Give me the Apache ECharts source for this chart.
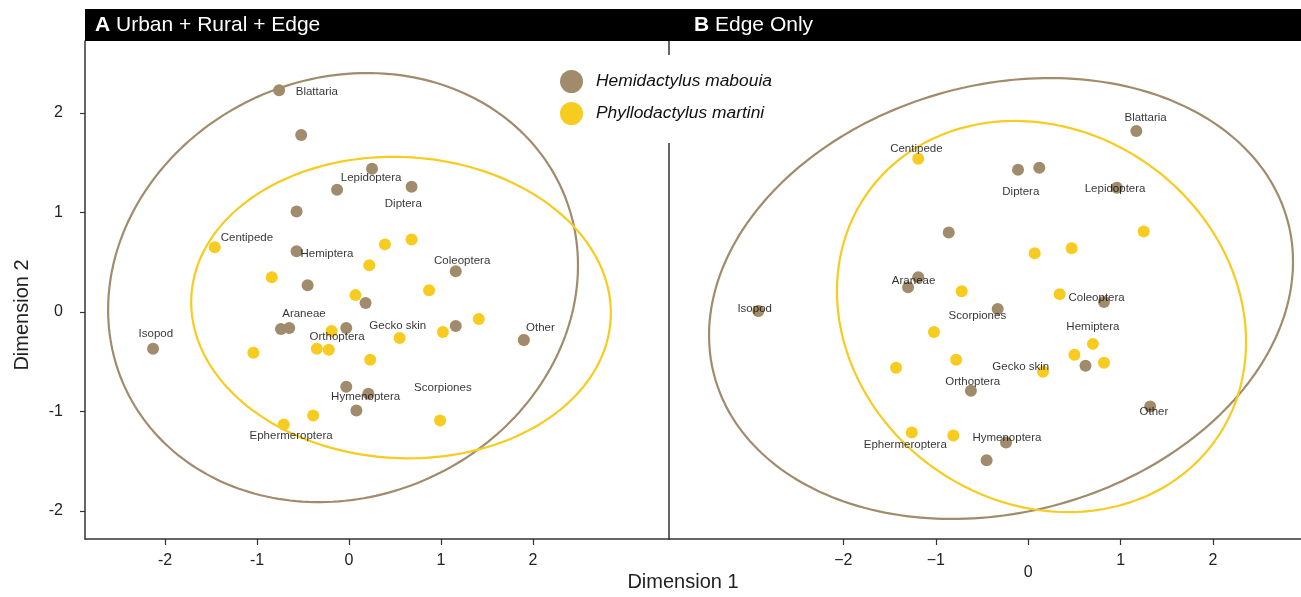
<!DOCTYPE html>
<html>
<head>
<meta charset="utf-8">
<script src="https://cdn.jsdelivr.net/npm/echarts@6/dist/echarts.min.js"></script>
<style>
html,body{margin:0;padding:0;background:#fff;}
#chart{width:1301px;height:597px;}
</style>
</head>
<body>
<div id="chart"></div>
<script>
// ---------- data ----------
const speciesNames = ['Hemidactylus mabouia', 'Phyllodactylus martini'];
const tickValues = [-2, -1, 0, 1, 2];

// Panel A: Urban + Rural + Edge
const hemA_x = [-0.76, -0.52, 0.25, -0.13, 0.68, -0.57, -0.57, -0.45, 1.16, 0.18, -0.74, -0.65, -0.03, 1.16, 1.90, -2.13, -0.03, 0.21, 0.08];
const hemA_y = [2.23, 1.78, 1.44, 1.23, 1.26, 1.01, 0.61, 0.27, 0.41, 0.09, -0.17, -0.16, -0.16, -0.14, -0.28, -0.37, -0.75, -0.82, -0.99];
const phyA_x = [-1.46, 0.68, 0.39, 0.22, -0.84, 0.87, 0.07, 1.41, 1.02, 0.55, -0.19, -0.35, -0.22, -1.04, 0.23, -0.39, -0.71, 0.99, 1.90];
const phyA_y = [0.65, 0.73, 0.68, 0.47, 0.35, 0.22, 0.17, -0.07, -0.20, -0.26, -0.19, -0.37, -0.38, -0.41, -0.48, -1.04, -1.13, -1.09, -0.28];
const labA_names = ['Blattaria', 'Lepidoptera', 'Diptera', 'Centipede', 'Hemiptera', 'Coleoptera', 'Araneae', 'Gecko skin', 'Orthoptera', 'Other', 'Isopod', 'Scorpiones', 'Hymenoptera', 'Ephermeroptera'];
const labA_x = [-0.35, 0.24, 0.59, -1.11, -0.24, 1.23, -0.49, 0.53, -0.13, 2.08, -2.10, 1.02, 0.18, -0.63];
const labA_y = [2.21, 1.35, 1.09, 0.75, 0.59, 0.51, -0.02, -0.14, -0.25, -0.16, -0.22, -0.76, -0.85, -1.24];
// ellipses: [centerX, centerY, u_x, u_y, v_x, v_y]  (point = C + U cos t + V sin t)
const ellA_hem = [-0.065, 0.246, 2.376, 0.993, 0.936, -1.914];
const ellA_phy = [0.565, 0.045, 2.279, -0.111, -0.086, -1.511];

// Panel B: Edge only
const hemB_x = [1.17, -0.11, 0.12, 0.96, -0.86, -1.19, -1.30, -0.33, 0.82, -2.92, 0.62, -0.62, 1.32, -0.24, -0.45];
const hemB_y = [1.82, 1.43, 1.45, 1.25, 0.80, 0.35, 0.25, 0.03, 0.10, 0.01, -0.54, -0.79, -0.95, -1.31, -1.49];
const phyB_x = [-1.19, 1.25, 0.47, 0.07, -0.72, 0.34, -1.02, 0.70, 0.50, 0.82, -0.78, -1.43, 0.16, -1.26, -0.81, -2.92];
const phyB_y = [1.54, 0.81, 0.64, 0.59, 0.21, 0.18, -0.20, -0.32, -0.43, -0.51, -0.48, -0.56, -0.60, -1.21, -1.24, 0.01];
const labB_names = ['Centipede', 'Blattaria', 'Diptera', 'Lepidoptera', 'Araneae', 'Isopod', 'Scorpiones', 'Coleoptera', 'Hemiptera', 'Gecko skin', 'Orthoptera', 'Other', 'Hymenoptera', 'Ephermeroptera'];
const labB_x = [-1.21, 1.27, -0.08, 0.94, -1.24, -2.96, -0.55, 0.74, 0.70, -0.08, -0.60, 1.36, -0.23, -1.33];
const labB_y = [1.64, 1.95, 1.21, 1.24, 0.31, 0.03, -0.04, 0.14, -0.15, -0.55, -0.70, -1.00, -1.26, -1.33];
const ellB_hem = [-0.294, 0.136, 3.101, 0.782, 0.606, -2.073];
const ellB_phy = [0.144, -0.045, 1.880, -1.246, -1.168, -1.520];

// ---------- styling ----------
const FONT = "'Liberation Sans', Arial, Helvetica, sans-serif";
const BROWN = '#a08c6c';
const YELLOW = '#f7cb1f';
const AXIS = '#333';

function zip(xs, ys) { return xs.map((x, i) => [x, ys[i]]); }
function zipLab(xs, ys, names) { return xs.map((x, i) => [x, ys[i], names[i]]); }

function ellipseSeries(p, color, gi) {
  return {
    type: 'custom', name: 'ellipse', xAxisIndex: gi, yAxisIndex: gi, z: 1, silent: true,
    data: [[p[0], p[1]]],
    renderItem: function (params, api) {
      const pts = [];
      const N = 240;
      for (let i = 0; i <= N; i++) {
        const t = i / N * 2 * Math.PI;
        pts.push(api.coord([p[0] + p[2] * Math.cos(t) + p[4] * Math.sin(t),
                            p[1] + p[3] * Math.cos(t) + p[5] * Math.sin(t)]));
      }
      return { type: 'polyline', shape: { points: pts }, style: { stroke: color, lineWidth: 2.2, fill: null } };
    }
  };
}
function pointSeries(name, data, color, gi, z) {
  return {
    type: 'scatter', name: name, xAxisIndex: gi, yAxisIndex: gi, z: z,
    symbol: 'circle', symbolSize: 12, data: data,
    itemStyle: { color: color, opacity: 1 }, emphasis: { disabled: true }
  };
}
function labelSeries(data, gi) {
  return {
    type: 'scatter', name: 'labels', xAxisIndex: gi, yAxisIndex: gi, z: 5, silent: true,
    symbol: 'circle', symbolSize: 1, data: data,
    itemStyle: { color: 'rgba(0,0,0,0)' },
    label: { show: true, position: 'inside', formatter: p => p.data[2], color: '#000', fontSize: 11.5, fontFamily: FONT },
    emphasis: { disabled: true }
  };
}

const yMin = -2.281, yMax = 2.724;

const option = {
  animation: false,
  backgroundColor: '#fff',
  textStyle: { fontFamily: FONT },
  grid: [
    { left: 85, top: 41, width: 584, height: 498, containLabel: false, outerBoundsMode: 'none' },
    { left: 669, top: 41, width: 632, height: 498, containLabel: false, outerBoundsMode: 'none' }
  ],
  xAxis: [
    {
      gridIndex: 0, type: 'value', min: -2.870, max: 3.478,
      axisLine: { show: true, onZero: false, lineStyle: { color: AXIS, width: 1.5 } },
      axisTick: { show: true, length: 6, customValues: tickValues, lineStyle: { color: AXIS, width: 1.2 } },
      axisLabel: { show: true, customValues: tickValues, margin: 14, fontSize: 16, color: '#222', fontFamily: FONT },
      splitLine: { show: false }
    },
    {
      gridIndex: 1, type: 'value', min: -3.887, max: 2.952,
      axisLine: { show: true, onZero: false, lineStyle: { color: AXIS, width: 1.5 } },
      axisTick: { show: true, length: 6, customValues: tickValues, lineStyle: { color: AXIS, width: 1.2 } },
      axisLabel: {
        show: true, customValues: tickValues, margin: 14, fontSize: 16, color: '#222', fontFamily: FONT,
        formatter: v => (v === 0 ? '{z|0}' : String(v).replace('-', '\u2212')),
        rich: { z: { fontSize: 16, color: '#222', fontFamily: FONT, padding: [12, 0, 0, 0] } }
      },
      splitLine: { show: false }
    }
  ],
  yAxis: [
    {
      gridIndex: 0, type: 'value', min: yMin, max: yMax,
      axisLine: { show: true, onZero: false, lineStyle: { color: AXIS, width: 1.5 } },
      axisTick: { show: true, length: 5, customValues: tickValues, lineStyle: { color: AXIS, width: 1.2 } },
      axisLabel: { show: true, customValues: tickValues, margin: 22, fontSize: 16, color: '#222', fontFamily: FONT },
      splitLine: { show: false }
    },
    {
      gridIndex: 1, type: 'value', min: yMin, max: yMax,
      axisLine: { show: true, onZero: false, lineStyle: { color: AXIS, width: 1.5 } },
      axisTick: { show: false }, axisLabel: { show: false }, splitLine: { show: false }
    }
  ],
  legend: {
    data: speciesNames, orient: 'vertical', left: 548, top: 55,
    padding: [15, 14, 18, 12], itemGap: 9, itemWidth: 23, itemHeight: 23, icon: 'circle',
    backgroundColor: '#fff', selectedMode: false, z: 10,
    textStyle: { fontSize: 17.4, fontStyle: 'italic', color: '#111', fontFamily: FONT, padding: [0, 0, 0, 8] }
  },
  graphic: [
    { type: 'rect', left: 85, top: 9, shape: { width: 1216, height: 32 }, style: { fill: '#000' }, z: 100 },
    {
      type: 'text', x: 95, y: 25, z: 101,
      style: {
        text: '{b|A}{n| Urban + Rural + Edge}', textVerticalAlign: 'middle', textAlign: 'left',
        rich: {
          b: { fontSize: 21, fontWeight: 'bold', fill: '#fff', fontFamily: FONT },
          n: { fontSize: 21, fill: '#fff', fontFamily: FONT }
        }
      }
    },
    {
      type: 'text', x: 694, y: 25, z: 101,
      style: {
        text: '{b|B}{n| Edge Only}', textVerticalAlign: 'middle', textAlign: 'left',
        rich: {
          b: { fontSize: 21, fontWeight: 'bold', fill: '#fff', fontFamily: FONT },
          n: { fontSize: 21, fill: '#fff', fontFamily: FONT }
        }
      }
    },
    {
      type: 'text', x: 683, y: 582, z: 101,
      style: { text: 'Dimension 1', fontSize: 20, fill: '#222', fontFamily: FONT, textAlign: 'center', textVerticalAlign: 'middle' }
    },
    {
      type: 'text', x: 22, y: 315, rotation: Math.PI / 2, z: 101,
      style: { text: 'Dimension 2', fontSize: 20, fill: '#222', fontFamily: FONT, textAlign: 'center', textVerticalAlign: 'middle' }
    }
  ],
  series: [
    ellipseSeries(ellA_hem, BROWN, 0),
    ellipseSeries(ellA_phy, YELLOW, 0),
    ellipseSeries(ellB_hem, BROWN, 1),
    ellipseSeries(ellB_phy, YELLOW, 1),
    pointSeries(speciesNames[1], zip(phyA_x, phyA_y), YELLOW, 0, 2),
    pointSeries(speciesNames[0], zip(hemA_x, hemA_y), BROWN, 0, 3),
    pointSeries(speciesNames[1], zip(phyB_x, phyB_y), YELLOW, 1, 2),
    pointSeries(speciesNames[0], zip(hemB_x, hemB_y), BROWN, 1, 3),
    labelSeries(zipLab(labA_x, labA_y, labA_names), 0),
    labelSeries(zipLab(labB_x, labB_y, labB_names), 1)
  ]
};

const chart = echarts.init(document.getElementById('chart'), null, { renderer: 'canvas' });
chart.setOption(option);
</script>
</body>
</html>
